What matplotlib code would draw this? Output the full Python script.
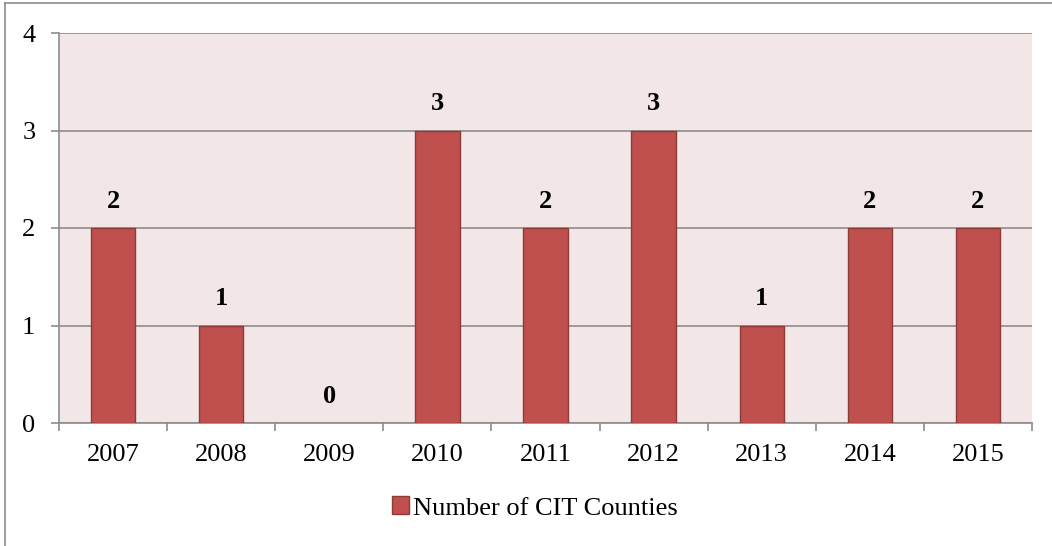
import matplotlib
matplotlib.use("Agg")
import matplotlib.pyplot as plt
from matplotlib.lines import Line2D
from matplotlib.patches import Patch

years = ["2007", "2008", "2009", "2010", "2011", "2012", "2013", "2014", "2015"]
counties = [2, 1, 0, 3, 2, 3, 1, 2, 2]
series_name = "Number of CIT Counties"

plt.rcParams["font.family"] = ["Liberation Serif", "DejaVu Serif"]

bar_color = "#C0504D"
edge_color = "#8C3B39"
grid_color = "#8C8C8C"

fig = plt.figure(figsize=(10.52, 5.46), dpi=100)
ax = fig.add_axes([59 / 1052, 1 - 423 / 546, (1032 - 59) / 1052, (423 - 33) / 546])
ax.set_facecolor("#F2E7E6")

x = list(range(len(years)))
bars = ax.bar(x, counties, width=0.41, color=bar_color,
              edgecolor=[edge_color if v > 0 else "none" for v in counties],
              linewidth=1.0, zorder=3)

for xi, v in zip(x, counties):
    ax.annotate(str(v), (xi, v), xytext=(0, 11), textcoords="offset points",
                ha="center", va="bottom", fontsize=19, fontweight="bold")

ax.set_xlim(-0.5, len(years) - 0.5)
ax.set_ylim(0, 4)
ax.set_yticks([0, 1, 2, 3, 4])
ax.yaxis.grid(True, color=grid_color, linewidth=1.2, zorder=1)
ax.set_axisbelow(True)

ax.set_xticks(x)
ax.set_xticklabels(years)
ax.set_xticks([i + 0.5 for i in range(-1, len(years))], minor=True)
ax.tick_params(axis="x", which="major", length=0, pad=15, labelsize=19)
ax.tick_params(axis="x", which="minor", length=6, color=grid_color, width=1.2)
ax.tick_params(axis="y", length=6, color=grid_color, width=1.2, pad=11, labelsize=19)

ax.spines["right"].set_visible(False)
ax.spines["top"].set_visible(False)
for s in ["left", "bottom"]:
    ax.spines[s].set_color(grid_color)
    ax.spines[s].set_linewidth(1.2)

handle = Patch(facecolor=bar_color, edgecolor=edge_color, label=series_name)
fig.legend(handles=[handle], loc="center", bbox_to_anchor=(535 / 1052, 1 - 508 / 546),
           frameon=False, fontsize=19, handlelength=0.65, handleheight=0.65,
           handletextpad=0.15)

# outer chart border (left and top edges visible)
fig.add_artist(Line2D([5 / 1052, 5 / 1052], [0, 1 - 3 / 546], color="#8C8C8C",
                      linewidth=1.2, transform=fig.transFigure))
fig.add_artist(Line2D([5 / 1052, 1], [1 - 3 / 546, 1 - 3 / 546], color="#8C8C8C",
                      linewidth=1.2, transform=fig.transFigure))

fig.savefig("out.png", dpi=100)
